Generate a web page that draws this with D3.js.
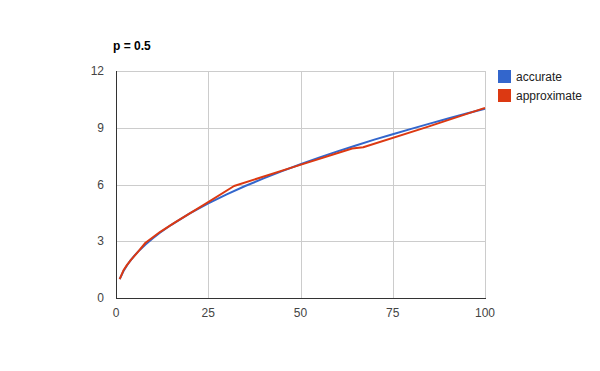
<!DOCTYPE html>
<html>
<head>
<meta charset="utf-8">
<script src="https://cdn.jsdelivr.net/npm/d3@7"></script>
<style>
  body { margin: 0; background: #fff; }
  svg { font-family: Arial, "Liberation Sans", sans-serif; }
</style>
</head>
<body>
<svg id="chart" width="600" height="371"></svg>
<script>
// values
const accurateX = [1, 2, 3, 4, 5, 6, 8, 10, 12, 15, 20, 25, 30, 35, 40, 45, 50, 55, 60, 65, 70, 75, 80, 85, 90, 95, 100];
const accurateY = [1, 1.41, 1.73, 2, 2.24, 2.45, 2.83, 3.16, 3.46, 3.87, 4.47, 5, 5.48, 5.92, 6.32, 6.71, 7.07, 7.42, 7.75, 8.06, 8.37, 8.66, 8.94, 9.22, 9.49, 9.75, 10];
const approxX = [1, 2, 3, 4, 6, 8, 12, 16, 24, 32, 48, 64, 67, 84, 100];
const approxY = [1, 1.45, 1.75, 2.0, 2.45, 2.92, 3.5, 4.0, 4.95, 5.92, 6.92, 7.9, 7.97, 9.02, 10.05];
const xTicks = [0, 25, 50, 75, 100];
const yTicks = [0, 3, 6, 9, 12];
const seriesNames = ["accurate", "approximate"];
const colors = ["#3366cc", "#dc3912"];

const svg = d3.select("#chart");
const plotL = 116, plotR = 485, plotT = 71, plotB = 298;

const x = d3.scaleLinear().domain([0, 100]).range([plotL, plotR]);
const y = d3.scaleLinear().domain([0, 12]).range([plotB, plotT]);

// title
svg.append("text")
  .attr("x", 113).attr("y", 50)
  .attr("font-size", 12).attr("font-weight", "bold")
  .attr("fill", "#000")
  .text("p = 0.5");

// grid
svg.append("g").selectAll("line").data(yTicks.filter(d => d > 0)).join("line")
  .attr("x1", plotL).attr("x2", plotR)
  .attr("y1", d => Math.round(y(d)) + 0.5).attr("y2", d => Math.round(y(d)) + 0.5)
  .attr("stroke", "#cccccc");
svg.append("g").selectAll("line").data(xTicks.filter(d => d > 0)).join("line")
  .attr("x1", d => Math.round(x(d)) + 0.5).attr("x2", d => Math.round(x(d)) + 0.5)
  .attr("y1", plotT).attr("y2", plotB)
  .attr("stroke", "#cccccc");

// tick labels
svg.append("g").selectAll("text").data(yTicks).join("text")
  .attr("x", 104).attr("y", d => y(d) + 4)
  .attr("text-anchor", "end")
  .attr("font-size", 12).attr("fill", "#444")
  .text(d => d);
svg.append("g").selectAll("text").data(xTicks).join("text")
  .attr("x", d => x(d)).attr("y", 317)
  .attr("text-anchor", "middle")
  .attr("font-size", 12).attr("fill", "#444")
  .text(d => d);

// lines
const line = d3.line().x(d => x(d[0])).y(d => y(d[1]));
const series = [
  d3.zip(accurateX, accurateY),
  d3.zip(approxX, approxY)
];
svg.append("g").selectAll("path").data(series).join("path")
  .attr("d", line)
  .attr("fill", "none")
  .attr("stroke", (d, i) => colors[i])
  .attr("stroke-width", 2)
  .attr("stroke-linejoin", "round");

// baselines
svg.append("line")
  .attr("x1", plotL + 0.5).attr("x2", plotL + 0.5)
  .attr("y1", plotT).attr("y2", plotB + 1)
  .attr("stroke", "#333");
svg.append("line")
  .attr("x1", plotL).attr("x2", plotR + 1)
  .attr("y1", plotB + 0.5).attr("y2", plotB + 0.5)
  .attr("stroke", "#333");

// legend
const legend = svg.append("g").selectAll("g").data(seriesNames).join("g")
  .attr("transform", (d, i) => `translate(498, ${70 + i * 19})`);
legend.append("rect")
  .attr("width", 13).attr("height", 13)
  .attr("fill", (d, i) => colors[i]);
legend.append("text")
  .attr("x", 18).attr("y", 11)
  .attr("font-size", 12).attr("fill", "#222")
  .text(d => d);
</script>
</body>
</html>
